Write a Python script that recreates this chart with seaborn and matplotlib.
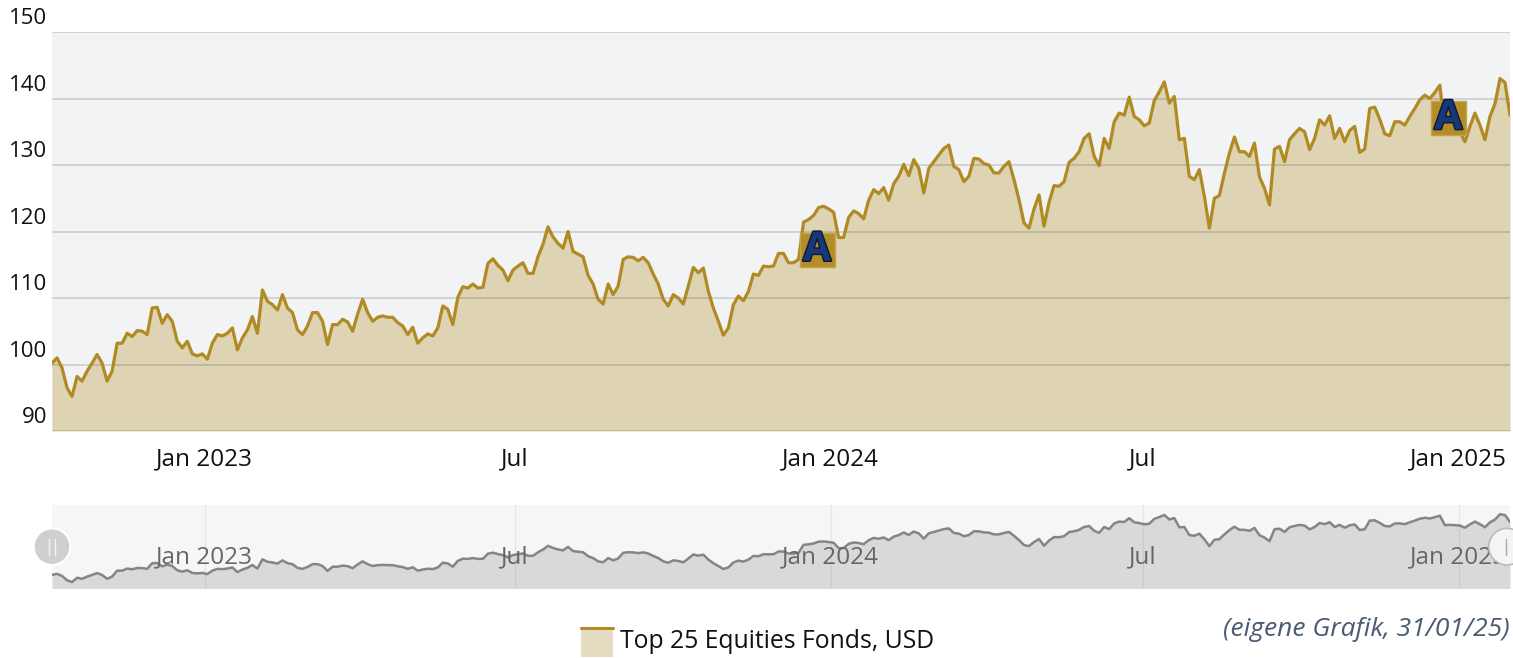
import pandas as pd
import matplotlib
matplotlib.use("Agg")
import matplotlib.pyplot as plt
import matplotlib.dates as mdates
import matplotlib.patheffects as pe
from matplotlib.patches import Rectangle, Circle
from matplotlib.lines import Line2D
from matplotlib.transforms import ScaledTranslation, blended_transform_factory
import seaborn as sns

# DATA (roughly every 3 days)
start_date = "2022-10-04"
end_date = "2025-01-31"
values = [
    100.2, 101.0, 99.5, 96.5, 95.2, 98.2, 97.5, 99.0, 100.2, 101.5,
    100.2, 97.5, 99.0, 103.2, 103.2, 104.7, 104.2, 105.1, 105.0, 104.5,
    108.5, 108.6, 106.2, 107.5, 106.5, 103.5, 102.5, 103.5, 101.6, 101.3,
    101.6, 100.8, 103.2, 104.5, 104.3, 104.7, 105.5, 102.2, 104.0, 105.2,
    107.2, 104.7, 111.2, 109.5, 109.0, 108.2, 110.5, 108.5, 107.8, 105.2,
    104.5, 105.8, 107.8, 107.8, 106.5, 103.0, 106.0, 106.0, 106.8, 106.4,
    105.0, 107.6, 109.8, 107.8, 106.5, 107.1, 107.3, 107.1, 107.1, 106.3,
    105.8, 104.5, 105.6, 103.2, 104.0, 104.6, 104.3, 105.5, 108.8, 108.3,
    106.0, 110.1, 111.7, 111.5, 112.1, 111.5, 111.6, 115.2, 115.9, 114.9,
    114.2, 112.6, 114.2, 114.8, 115.3, 113.7, 113.7, 116.2, 118.1, 120.7,
    119.2, 118.2, 117.5, 120.0, 117.0, 116.6, 116.2, 113.4, 112.1, 109.8,
    109.1, 112.1, 110.5, 111.8, 115.8, 116.2, 116.1, 115.6, 116.1, 115.3,
    113.6, 112.1, 109.8, 108.8, 110.5, 110.0, 109.1, 111.8, 114.6, 113.8,
    114.5, 111.0, 108.5, 106.5, 104.4, 105.5, 109.0, 110.3, 109.6, 111.0,
    113.6, 113.4, 114.8, 114.7, 114.8, 116.7, 116.7, 115.3, 115.3, 115.8,
    121.4, 121.8, 122.4, 123.6, 123.8, 123.4, 122.9, 119.1, 119.1, 122.1,
    123.1, 122.7, 121.9, 124.7, 126.3, 125.7, 126.6, 124.7, 127.2, 128.3,
    130.1, 128.4, 130.8, 129.5, 125.8, 129.5, 130.5, 131.5, 132.5, 133.0,
    129.8, 129.3, 127.5, 128.3, 131.0, 130.9, 130.2, 130.0, 128.8, 128.8,
    129.8, 130.5, 127.8, 124.8, 121.3, 120.5, 123.4, 125.5, 120.8, 124.4,
    126.9, 126.8, 127.5, 130.4, 131.0, 132.0, 134.0, 134.7, 131.3, 129.9,
    134.0, 132.5, 136.5, 137.8, 137.5, 140.2, 137.3, 136.8, 135.9, 136.3,
    139.7, 141.0, 142.5, 139.3, 140.3, 133.8, 134.0, 128.3, 127.8, 129.3,
    125.3, 120.5, 125.0, 125.4, 128.8, 131.8, 134.2, 132.0, 132.0, 131.3,
    133.3, 128.2, 126.5, 124.0, 132.4, 132.8, 130.5, 133.8, 134.7, 135.5,
    135.0, 132.3, 134.0, 136.8, 136.0, 137.4, 134.0, 135.5, 133.5, 135.2,
    135.8, 131.9, 132.4, 138.5, 138.7, 136.9, 134.7, 134.4, 136.5, 136.5,
    136.0, 137.3, 138.5, 139.8, 140.5, 140.0, 140.9, 142.0, 135.3, 135.5,
    135.3, 135.0, 133.5, 135.8, 137.8, 136.0, 133.8, 137.3, 139.2, 143.0,
    142.4, 137.5,
]
tick_dates = ["2023-01-01", "2023-07-01", "2024-01-01", "2024-07-01", "2025-01-01"]
tick_labels = ["Jan 2023", "Jul", "Jan 2024", "Jul", "Jan 2025"]
y_ticks = [90, 100, 110, 120, 130, 140, 150]
flag_dates = ["2023-12-24", "2024-12-26"]
flag_values = [117.2, 137.0]
flag_text = ["A", "A"]
series_name = "Top 25 Equities Fonds, USD"
source_note = "(eigene Grafik, 31/01/25)"

dates = pd.date_range(start_date, end_date, periods=len(values))
df = pd.DataFrame({"date": dates, "value": values})
ticks = pd.to_datetime(tick_dates)

GOLD = "#b08a22"
FILL = "#ded3b3"

sns.set_theme(style="white")
plt.rcParams["font.family"] = ["Open Sans", "DejaVu Sans"]

W, H = 1513, 658
fig = plt.figure(figsize=(W / 100, H / 100), dpi=100)

# MAIN CHART
ax = fig.add_axes([52 / W, 1 - 431 / H, 1458 / W, 399 / H])
ax.set_facecolor("#f2f3f5")
ax.fill_between(df["date"], df["value"], 90, color=FILL, lw=0, zorder=1)
for v in y_ticks:
    ax.axhline(v, color="black", alpha=0.14, lw=1.3, zorder=2)
sns.lineplot(data=df, x="date", y="value", ax=ax, color=GOLD, lw=2.3, zorder=3)
ax.set_xlim(dates[0], dates[-1])
ax.set_ylim(90, 150)
for s in ax.spines.values():
    s.set_visible(False)
ax.set_yticks([])
ax.set_xticks(ticks)
ax.set_xticklabels(tick_labels)
ax.tick_params(axis="x", length=7, width=1, color="#cccccc", pad=5, labelsize=17.5, labelcolor="#111111")
ax.set_xlabel("")
ax.set_ylabel("")
for v in y_ticks:
    ax.annotate(str(v), xy=(0, v), xycoords=("axes fraction", "data"), xytext=(-3.6, 5.5),
                textcoords="offset points", ha="right", va="baseline", fontsize=16, color="#111111")

# flags
for d, v, t in zip(flag_dates, flag_values, flag_text):
    xd = mdates.date2num(pd.Timestamp(d))
    tr = fig.dpi_scale_trans + ScaledTranslation(xd, v, ax.transData)
    ax.add_patch(Rectangle((-0.175, -0.17), 0.35, 0.34, transform=tr, fc="#b38d27", ec="#c6a24c",
                           lw=1, zorder=5, clip_on=False))
    ax.text(xd, v, t, ha="center", va="center", fontsize=29, fontweight="bold", color="#17377a",
            family="Open Sans", zorder=6,
            path_effects=[pe.withStroke(linewidth=2, foreground="#0b1a33")])

# NAVIGATOR
nav = fig.add_axes([52 / W, 1 - 588 / H, 1458 / W, 83 / H])
nav.set_facecolor("#f6f6f6")
nav.fill_between(df["date"], df["value"], 80, color="#d9d9d9", lw=0, zorder=1)
sns.lineplot(data=df, x="date", y="value", ax=nav, color="#858585", lw=1.8, zorder=3)
nav.set_xlim(dates[0], dates[-1])
nav.set_ylim(91, 149.5)
for t in ticks:
    nav.axvline(t, color="black", alpha=0.06, lw=1, zorder=2)
nb = blended_transform_factory(nav.transData, nav.transAxes)
for t, lab in zip(ticks, tick_labels):
    nav.text(t, 0.373, lab, transform=nb, ha="center", va="center", fontsize=17.5, color="#666666", zorder=4)
for s in nav.spines.values():
    s.set_visible(False)
nav.set_xticks([])
nav.set_yticks([])
nav.set_xlabel("")
nav.set_ylabel("")

# handles
hy = (H - 546.7) / 100
fig.patches.append(Circle((0.52, hy), 0.183, transform=fig.dpi_scale_trans, fc="#cfcfcf", ec="white", lw=1.5, zorder=5))
for dx in (-0.03, 0.03):
    fig.lines.append(Line2D([0.52 + dx, 0.52 + dx], [hy - 0.08, hy + 0.08], transform=fig.dpi_scale_trans,
                            color="#f4f4f4", lw=1, zorder=6))
fig.patches.append(Circle((15.07, hy), 0.183, transform=fig.dpi_scale_trans, fc="#f4f4f4", ec="#bbbbbb", lw=1.2, zorder=5))
fig.lines.append(Line2D([15.06, 15.06], [hy - 0.08, hy + 0.08], transform=fig.dpi_scale_trans,
                        color="#aaaaaa", lw=1, zorder=6))

# LEGEND + NOTE
fig.patches.append(Rectangle((5.81, 0.01), 0.32, 0.30, transform=fig.dpi_scale_trans, fc="#e6dcc1", lw=0, zorder=5))
fig.lines.append(Line2D([5.81, 6.13], [0.30, 0.30], transform=fig.dpi_scale_trans, color=GOLD, lw=2.2, zorder=6))
fig.text(6.20 / (W / 100), 0.16 / (H / 100), series_name, ha="left", va="center", fontsize=17.8, color="#111111")
fig.text(15.10 / (W / 100), 0.29 / (H / 100), source_note, ha="right", va="center", fontsize=19,
         style="italic", color="#4b5a73")

fig.savefig("out.png", dpi=100)
